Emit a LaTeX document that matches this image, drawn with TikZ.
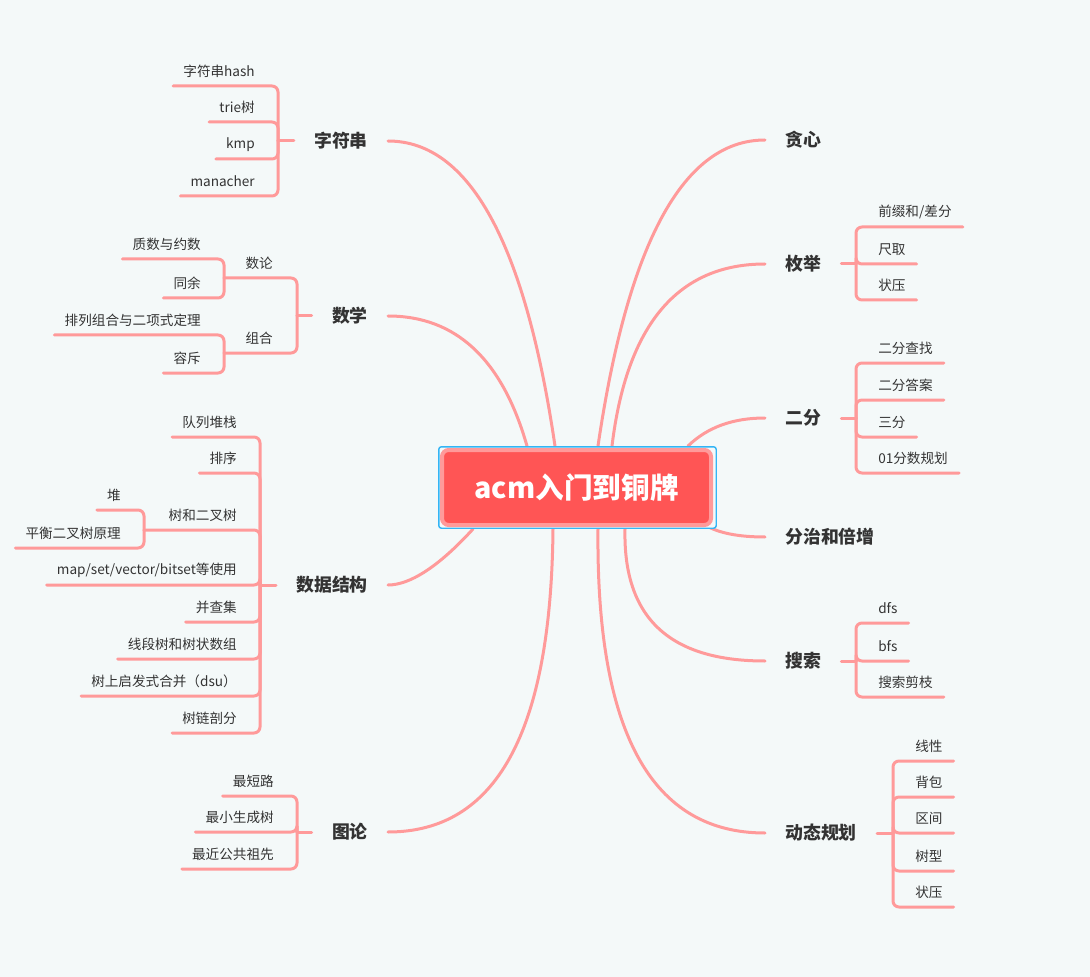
\documentclass[tikz,border=0pt]{standalone}
\usepackage{fontspec}
\setmainfont{Noto Sans CJK SC}
\usetikzlibrary{calc}
\definecolor{bg}{HTML}{F4F9F9}
\definecolor{ln}{HTML}{FF9A9A}
\definecolor{rootfill}{HTML}{FF5555}
\definecolor{rootedge}{HTML}{FF9A9A}
\definecolor{sel}{HTML}{33B5F5}
\definecolor{txt}{HTML}{333333}
\begin{document}
\begin{tikzpicture}[x=0.75pt,y=-0.75pt,
  conn/.style={draw=ln,line width=2.25pt,line cap=round},
  brk/.style={conn,rounded corners=4.5pt},
  mainL/.style={anchor=east,inner xsep=15pt,inner ysep=0pt,font=\fontsize{13.4pt}{15pt}\selectfont\bfseries,text=txt},
  mainR/.style={mainL,anchor=west},
  leafL/.style={anchor=south east,inner xsep=7.5pt,inner ysep=0pt,minimum height=21.75pt,font=\fontsize{10.2pt}{12pt}\selectfont,text=txt},
  leafR/.style={leafL,anchor=south west,inner xsep=8.25pt},
]
\fill[bg] (0,0) rectangle (1090,977);
\useasboundingbox (0,0) rectangle (1090,977);

% main labels
\node[mainL] (zfc) at (388,141) {字符串};
\node[mainL] (sx) at (388,316) {数学};
\node[mainL] (sjjg) at (388,585) {数据结构};
\node[mainL] (tl) at (388,832) {图论};
\node[mainR] (tx) at (765,140) {贪心};
\node[mainR] (mj) at (765,264) {枚举};
\node[mainR] (ef) at (765,418) {二分};
\node[mainR] (fz) at (765,537) {分治和倍增};
\node[mainR] (ss) at (765,661) {搜索};
\node[mainR] (dp) at (765,833) {动态规划};

% ends on the central box
\coordinate (e-zfc) at (555,446);
\coordinate (e-sx) at (527,446);
\coordinate (e-sjjg) at (473,529);
\coordinate (e-tl) at (553,529);
\coordinate (e-tx) at (598,446);
\coordinate (e-mj) at (612,446);
\coordinate (e-ef) at (688,446);
\coordinate (e-fz) at (705,525);
\coordinate (e-ss) at (625,529);
\coordinate (e-dp) at (598,529);

\draw[conn] (zfc.east) .. controls +(81.3,0) and +(-30,-203.3) .. (e-zfc);
\draw[conn] (sx.east) .. controls +(68,0) and +(-24.7,-86.7) .. (e-sx);
\draw[conn] (sjjg.east) .. controls +(21.3,0) and +(-35.3,38.7) .. (e-sjjg);
\draw[conn] (tl.east) .. controls +(108,0) and +(-2,204) .. (e-tl);
\draw[conn] (tx.west) .. controls +(-81.3,0) and +(30,-204) .. (e-tx);
\draw[conn] (mj.west) .. controls +(-87.3,0) and +(14.7,-121.3) .. (e-mj);
\draw[conn] (ef.west) .. controls +(-31.3,0) and +(20,-19.3) .. (e-ef);
\draw[conn] (fz.west) .. controls +(-26.7,0) and +(13.3,8) .. (e-fz);
\draw[conn] (ss.west) .. controls +(-95,0) and +(-2,89.3) .. (e-ss);
\draw[conn] (dp.west) .. controls +(-113.3,0) and +(-2,204) .. (e-dp);

% central box
\node[fill=bg,draw=sel,line width=1.1pt,rounded corners=2pt,minimum width=208.1pt,minimum height=61.1pt,inner sep=0pt] (sel) at (577.5,487.5) {};
\node[fill=rootfill,draw=rootedge,line width=3pt,rounded corners=5pt,minimum width=201.75pt,minimum height=56.25pt,inner sep=0pt,text=white,font=\fontsize{21.5pt}{24pt}\selectfont\bfseries] (root) at (576.5,487.5) {acm入门到铜牌};

% ---------- 字符串
\coordinate (b1) at (278,141);
\draw[conn] (zfc.west) -- (b1);
\node[leafL] (h1) at (265,86) {字符串hash};
\node[leafL] (h2) at (265,122) {trie树};
\node[leafL] (h3) at (265,159) {kmp};
\node[leafL] (h4) at (265,196) {manacher};
\foreach \n in {h1,h2,h3,h4} \draw[brk] (b1) |- (\n.south west);

% ---------- 数学
\coordinate (b2) at (297,316);
\draw[conn] (sx.west) -- (b2);
\node[leafL] (sl) at (283,278) {数论};
\node[leafL] (zh) at (283,353) {组合};
\coordinate (bs1) at (224,278);
\coordinate (bs2) at (224,353);
\draw[brk] (b2) |- (bs1);
\draw[brk] (b2) |- (bs2);
\node[leafL] (m1) at (211,259) {质数与约数};
\node[leafL] (m2) at (211,298) {同余};
\node[leafL] (m3) at (211,335) {排列组合与二项式定理};
\node[leafL] (m4) at (211,373) {容斥};
\draw[brk] (bs1) |- (m1.south west);
\draw[brk] (bs1) |- (m2.south west);
\draw[brk] (bs2) |- (m3.south west);
\draw[brk] (bs2) |- (m4.south west);

% ---------- 数据结构
\coordinate (b3) at (260,585);
\draw[conn] (sjjg.west) -- (b3);
\node[leafL] (d1) at (247,437) {队列堆栈};
\node[leafL] (d2) at (247,473) {排序};
\node[leafL] (d3) at (247,530) {树和二叉树};
\node[leafL] (d4) at (247,585) {map/set/vector/bitset等使用};
\node[leafL] (d5) at (247,622) {并查集};
\node[leafL] (d6) at (247,659) {线段树和树状数组};
\node[leafL] (d7) at (247,696) {树上启发式合并（dsu）};
\node[leafL] (d8) at (247,733) {树链剖分};
\coordinate (bt) at (144,530);
\foreach \n in {d1,d2,d4,d5,d6,d7,d8} \draw[brk] (b3) |- (\n.south west);
\draw[brk] (b3) |- (bt);
\node[leafL] (t1) at (131,510) {堆};
\node[leafL] (t2) at (131,548) {平衡二叉树原理};
\draw[brk] (bt) |- (t1.south west);
\draw[brk] (bt) |- (t2.south west);

% ---------- 图论
\coordinate (b4) at (297,832);
\draw[conn] (tl.west) -- (b4);
\node[leafL] (g1) at (284,796) {最短路};
\node[leafL] (g2) at (284,832) {最小生成树};
\node[leafL] (g3) at (284,869) {最近公共祖先};
\foreach \n in {g1,g2,g3} \draw[brk] (b4) |- (\n.south west);

% ---------- 枚举
\coordinate (b5) at (856,264);
\draw[conn] (mj.east) -- (b5);
\node[leafR] (e1) at (867,227) {前缀和/差分};
\node[leafR] (e2) at (867,264) {尺取};
\node[leafR] (e3) at (867,300) {状压};
\foreach \n in {e1,e2,e3} \draw[brk] (b5) |- (\n.south east);

% ---------- 二分
\coordinate (b6) at (856,418);
\draw[conn] (ef.east) -- (b6);
\node[leafR] (f1) at (867,363) {二分查找};
\node[leafR] (f2) at (867,400) {二分答案};
\node[leafR] (f3) at (867,437) {三分};
\node[leafR] (f4) at (867,473) {01分数规划};
\foreach \n in {f1,f2,f3,f4} \draw[brk] (b6) |- (\n.south east);

% ---------- 搜索
\coordinate (b7) at (856,661);
\draw[conn] (ss.east) -- (b7);
\node[leafR] (s1) at (867,623) {dfs};
\node[leafR] (s2) at (867,661) {bfs};
\node[leafR] (s3) at (867,697) {搜索剪枝};
\foreach \n in {s1,s2,s3} \draw[brk] (b7) |- (\n.south east);

% ---------- 动态规划
\coordinate (b8) at (893,833);
\draw[conn] (dp.east) -- (b8);
\node[leafR] (p1) at (904,761) {线性};
\node[leafR] (p2) at (904,797) {背包};
\node[leafR] (p3) at (904,833) {区间};
\node[leafR] (p4) at (904,871) {树型};
\node[leafR] (p5) at (904,907) {状压};
\foreach \n in {p1,p2,p3,p4,p5} \draw[brk] (b8) |- (\n.south east);
\end{tikzpicture}
\end{document}
